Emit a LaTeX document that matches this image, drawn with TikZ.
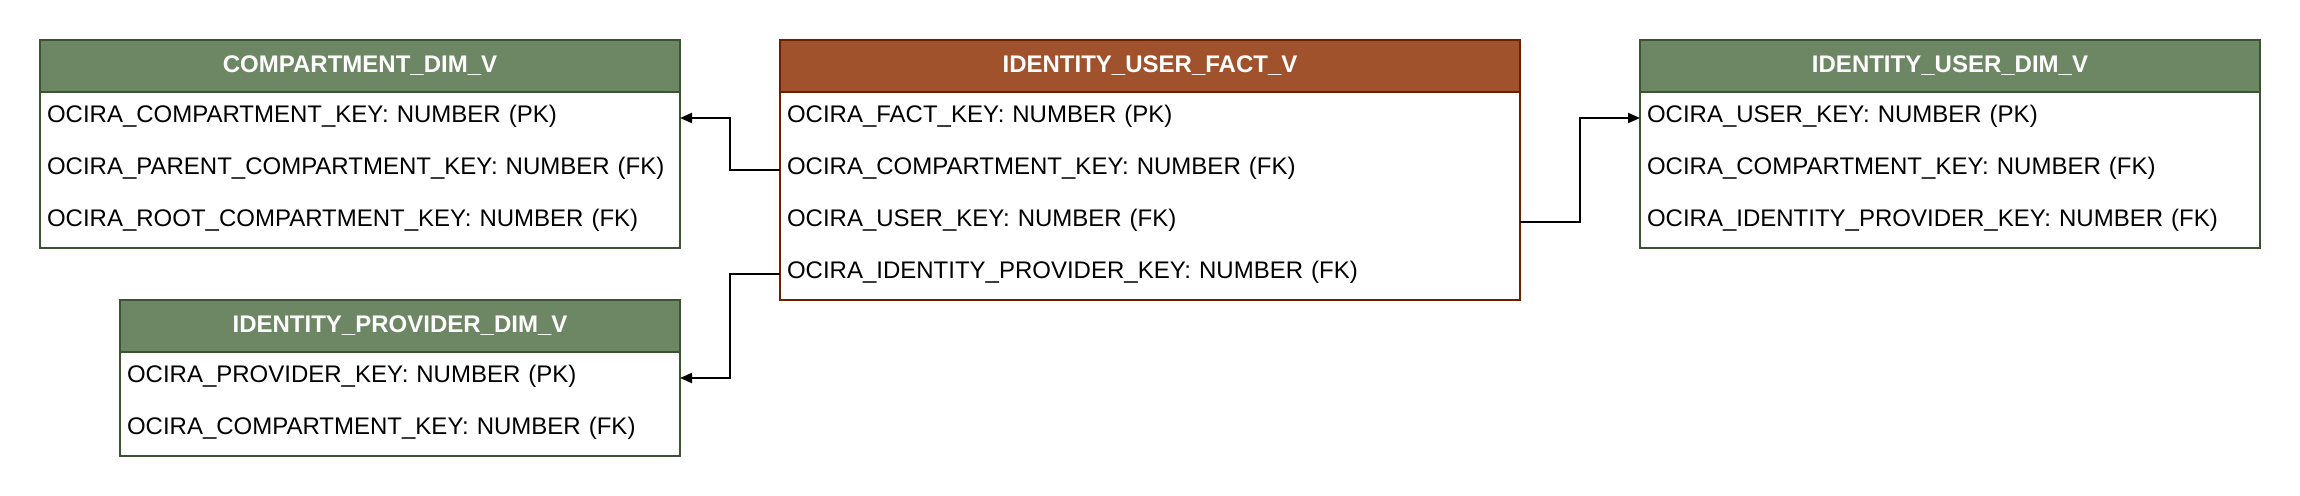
\documentclass[tikz,border=0pt]{standalone}
\usepackage{fontspec}
\setmainfont{Liberation Sans}
\usetikzlibrary{positioning,fit,arrows.meta}
\definecolor{dimfill}{HTML}{6D8764}
\definecolor{dimline}{HTML}{3A5431}
\definecolor{factfill}{HTML}{A0522D}
\definecolor{factline}{HTML}{6D1F00}

\begin{document}
\begin{tikzpicture}[x=0.5pt,y=-0.5pt,
    every node/.style={outer sep=0pt,font=\fontsize{12}{14}\selectfont},
    head/.style={fill=#1fill,draw=#1line,line width=1pt,text=white,
        font=\fontsize{12}{14}\selectfont\bfseries,minimum height=26pt,
        inner sep=0pt,anchor=north west},
    row/.style={text width=#1,align=left,minimum height=26pt,
        text height=8.8pt,text depth=4.6pt,inner ysep=0pt,inner xsep=3.5pt},
    frame/.style={draw=#1line,line width=1pt,inner sep=0pt},
    fk/.style={draw=black,line width=1pt,-{Triangle[length=6pt,width=5pt]}}]
    \useasboundingbox (0,0) rectangle (2300,496);

    \node[head=dim,minimum width=320pt] (cmpH) at (40,40) {COMPARTMENT\_DIM\_V};
    \node[row=313pt,below=0pt of cmpH] (cmp1) {OCIRA\_COMPARTMENT\_KEY: NUMBER (PK)};
    \node[row=313pt,below=0pt of cmp1] (cmp2) {OCIRA\_PARENT\_COMPARTMENT\_KEY: NUMBER (FK)};
    \node[row=313pt,below=0pt of cmp2] (cmp3) {OCIRA\_ROOT\_COMPARTMENT\_KEY: NUMBER (FK)};
    \node[frame=dim,fit=(cmpH)(cmp3)] (cmp) {};

    \node[head=dim,minimum width=280pt] (prvH) at (120,300) {IDENTITY\_PROVIDER\_DIM\_V};
    \node[row=273pt,below=0pt of prvH] (prv1) {OCIRA\_PROVIDER\_KEY: NUMBER (PK)};
    \node[row=273pt,below=0pt of prv1] (prv2) {OCIRA\_COMPARTMENT\_KEY: NUMBER (FK)};
    \node[frame=dim,fit=(prvH)(prv2)] (prv) {};

    \node[head=fact,minimum width=370pt] (fctH) at (780,40) {IDENTITY\_USER\_FACT\_V};
    \node[row=363pt,below=0pt of fctH] (fct1) {OCIRA\_FACT\_KEY: NUMBER (PK)};
    \node[row=363pt,below=0pt of fct1] (fct2) {OCIRA\_COMPARTMENT\_KEY: NUMBER (FK)};
    \node[row=363pt,below=0pt of fct2] (fct3) {OCIRA\_USER\_KEY: NUMBER (FK)};
    \node[row=363pt,below=0pt of fct3] (fct4) {OCIRA\_IDENTITY\_PROVIDER\_KEY: NUMBER (FK)};
    \node[frame=fact,fit=(fctH)(fct4)] (fct) {};

    \node[head=dim,minimum width=310pt] (usrH) at (1640,40) {IDENTITY\_USER\_DIM\_V};
    \node[row=303pt,below=0pt of usrH] (usr1) {OCIRA\_USER\_KEY: NUMBER (PK)};
    \node[row=303pt,below=0pt of usr1] (usr2) {OCIRA\_COMPARTMENT\_KEY: NUMBER (FK)};
    \node[row=303pt,below=0pt of usr2] (usr3) {OCIRA\_IDENTITY\_PROVIDER\_KEY: NUMBER (FK)};
    \node[frame=dim,fit=(usrH)(usr3)] (usr) {};

    \draw[fk] (fct2.west) -- ++(-50,0) |- (cmp1.east);
    \draw[fk] (fct4.west) -- ++(-50,0) |- (prv1.east);
    \draw[fk] (fct3.east) -- ++(60,0) |- (usr1.west);
\end{tikzpicture}
\end{document}
